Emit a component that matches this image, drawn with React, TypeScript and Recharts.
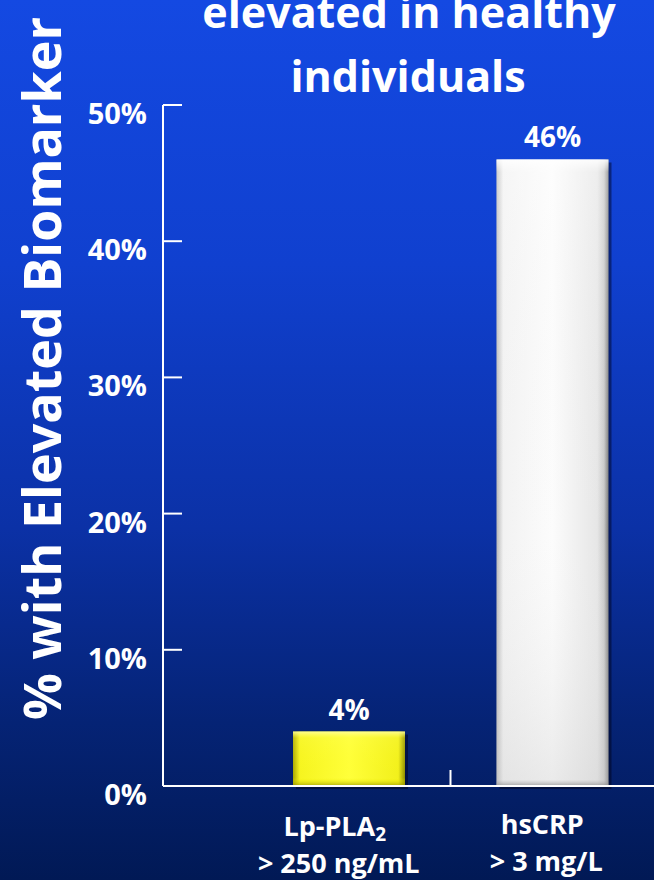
import React from "react";
import { BarChart, Bar, XAxis, YAxis, LabelList, Cell } from "recharts";

const categories = ["Lp-PLA2", "hsCRP"];
const thresholds = ["> 250 ng/mL", "> 3 mg/L"];
const percentElevated = [4, 46];
const yTicks = [0, 10, 20, 30, 40, 50];

const data = categories.map((name, i) => ({
  name,
  threshold: thresholds[i],
  value: percentElevated[i],
}));

const W = 654;
const H = 880;
const PLOT_LEFT = 163;
const PLOT_BOTTOM = 786;
const PAD_LEFT = 84;
const BAND = (W - PLOT_LEFT - PAD_LEFT) / categories.length;
const FONT = "'Open Sans', sans-serif";

const YTick = (props: any) => {
  const { y, payload } = props;
  return (
    <g>
      <line x1={PLOT_LEFT} x2={PLOT_LEFT + 19} y1={y} y2={y} stroke="#fff" strokeWidth={2} />
      <text
        x={147}
        y={y + 19}
        textAnchor="end"
        fill="#fff"
        fontSize={29}
        fontWeight={700}
        fontFamily={FONT}
      >
        {payload.value}%
      </text>
    </g>
  );
};

const XTick = (props: any) => {
  const { x, payload, index } = props;
  const d = data[index];
  return (
    <g>
      {index === 0 && (
        <line
          x1={x + BAND / 2}
          x2={x + BAND / 2}
          y1={PLOT_BOTTOM}
          y2={PLOT_BOTTOM - 16}
          stroke="#fff"
          strokeWidth={2}
        />
      )}
      <text textAnchor="middle" fill="#fff" fontSize={27} fontWeight={700} fontFamily={FONT}>
        {payload.value === "Lp-PLA2" ? (
          <tspan x={x - 14} y={PLOT_BOTTOM + 50}>
            Lp-PLA
            <tspan fontSize={19} dy={5}>2</tspan>
          </tspan>
        ) : (
          <tspan x={x - 10} y={PLOT_BOTTOM + 48}>
            {payload.value}
          </tspan>
        )}
      </text>
      <text
        x={index === 0 ? x - 10 : x - 6}
        y={index === 0 ? PLOT_BOTTOM + 87 : PLOT_BOTTOM + 85}
        textAnchor="middle"
        fill="#fff"
        fontSize={27}
        fontWeight={700}
        fontFamily={FONT}
      >
        {d.threshold}
      </text>
    </g>
  );
};

const BevelBar = (props: any) => {
  const { x, y, width, height, index } = props;
  const id = index === 0 ? "yel" : "wht";
  return (
    <g>
      <rect x={x + 3} y={y + 3} width={width} height={height} fill="rgba(0,0,20,0.45)" />
      <rect x={x} y={y} width={width} height={height} fill={`url(#${id}H)`} />
      <rect x={x} y={y} width={width} height={height} fill={`url(#${id}V)`} />
    </g>
  );
};

export default function App() {
  return (
    <div
      style={{
        position: "absolute",
        left: 0,
        top: 0,
        width: W,
        height: H,
        overflow: "hidden",
        background:
          "linear-gradient(to bottom, #1449e2 0%, #1040cf 30%, #0b31a6 60%, #052375 82%, #011955 100%)",
      }}
    >
      <BarChart
        width={W}
        height={H}
        data={data}
        margin={{ top: 105, right: 0, left: 0, bottom: H - PLOT_BOTTOM - 60 }}
        barSize={112}
      >
        <defs>
          <linearGradient id="yelH" x1="0" y1="0" x2="1" y2="0">
            <stop offset="0" stopColor="#a8a600" />
            <stop offset="0.06" stopColor="#f6f420" />
            <stop offset="0.5" stopColor="#ffff3a" />
            <stop offset="0.94" stopColor="#f2f01c" />
            <stop offset="1" stopColor="#8e8c00" />
          </linearGradient>
          <linearGradient id="yelV" x1="0" y1="0" x2="0" y2="1">
            <stop offset="0" stopColor="#ffffa0" stopOpacity={0.9} />
            <stop offset="0.12" stopColor="#ffff60" stopOpacity={0.2} />
            <stop offset="0.85" stopColor="#ffff00" stopOpacity={0} />
            <stop offset="1" stopColor="#8a8800" stopOpacity={0.7} />
          </linearGradient>
          <linearGradient id="whtH" x1="0" y1="0" x2="1" y2="0">
            <stop offset="0" stopColor="#b8b8b8" />
            <stop offset="0.06" stopColor="#f2f2f2" />
            <stop offset="0.5" stopColor="#fcfcfc" />
            <stop offset="0.9" stopColor="#e6e6e6" />
            <stop offset="0.96" stopColor="#c8c8c8" />
            <stop offset="1" stopColor="#7a7a7a" />
          </linearGradient>
          <linearGradient id="whtV" x1="0" y1="0" x2="0" y2="1">
            <stop offset="0" stopColor="#ffffff" stopOpacity={0.9} />
            <stop offset="0.02" stopColor="#ffffff" stopOpacity={0.3} />
            <stop offset="0.6" stopColor="#f0f0f0" stopOpacity={0} />
            <stop offset="0.99" stopColor="#d0d0d0" stopOpacity={0.4} />
            <stop offset="1" stopColor="#909090" stopOpacity={0.8} />
          </linearGradient>
        </defs>
        <XAxis
          dataKey="name"
          height={60}
          axisLine={{ stroke: "#fff", strokeWidth: 2 }}
          tickLine={false}
          tick={<XTick />}
          padding={{ left: PAD_LEFT, right: 0 }}
          interval={0}
        />
        <YAxis
          width={PLOT_LEFT}
          domain={[0, 50]}
          ticks={yTicks}
          axisLine={{ stroke: "#fff", strokeWidth: 2 }}
          tickLine={false}
          tick={<YTick />}
        />
        <Bar dataKey="value" shape={<BevelBar />} isAnimationActive={false}>
          {data.map((d) => (
            <Cell key={d.name} />
          ))}
          <LabelList
            dataKey="value"
            position="top"
            offset={12}
            formatter={(v: any) => `${v}%`}
            fill="#fff"
            fontSize={28}
            fontWeight={700}
            fontFamily={FONT}
          />
        </Bar>
      </BarChart>
      <svg width={W} height={H} style={{ position: "absolute", left: 0, top: 0, pointerEvents: "none" }}>
        <text
          x={409}
          y={28}
          textAnchor="middle"
          fill="#fff"
          fontSize={43}
          fontWeight={700}
          fontFamily={FONT}
        >
          elevated in healthy
        </text>
        <text
          x={408}
          y={92}
          textAnchor="middle"
          fill="#fff"
          fontSize={43}
          fontWeight={700}
          fontFamily={FONT}
        >
          individuals
        </text>
        <text
          transform="translate(61,720) rotate(-90)"
          textAnchor="start"
          fill="#fff"
          fontSize={52}
          fontWeight={700}
          fontFamily={FONT}
        >
          % with Elevated Biomarker
        </text>
      </svg>
    </div>
  );
}
